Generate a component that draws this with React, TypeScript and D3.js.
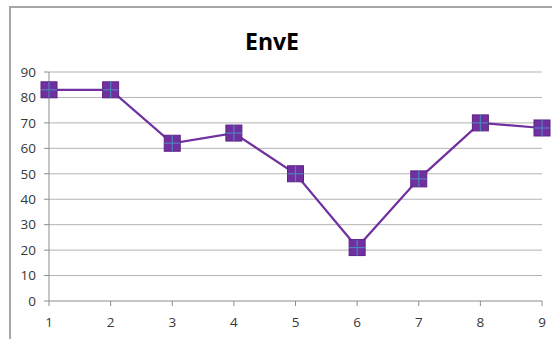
import React from "react";
import * as d3 from "d3";

const categories: number[] = [1, 2, 3, 4, 5, 6, 7, 8, 9];
const values: number[] = [83, 83, 62, 66, 50, 21, 48, 70, 68];
const yTicks: number[] = [0, 10, 20, 30, 40, 50, 60, 70, 80, 90];
const title = "EnvE";

const W = 552;
const H = 339;

export default function App() {
  const x = d3.scaleLinear().domain([1, 9]).range([49, 542]);
  const y = d3.scaleLinear().domain([0, 90]).range([301, 72]);
  const line = d3
    .line<number>()
    .x((_, i) => x(categories[i]))
    .y((d) => y(d));
  const ms = 16;

  return (
    <div style={{ position: "absolute", left: 0, top: 0 }}>
      <svg width={W} height={H} style={{ display: "block", background: "#fff" }}>
        {/* chart frame */}
        <rect x={10} y={7} width={W + 20} height={H + 20} fill="#fff" stroke="#a6a6a6" strokeWidth={2} />
        <text
          x={272}
          y={50}
          textAnchor="middle"
          fontFamily="'Open Sans', sans-serif"
          fontWeight="bold"
          fontSize={23}
          fill="#000"
        >
          {title}
        </text>
        {/* horizontal gridlines */}
        {yTicks.slice(1).map((t) => (
          <line key={t} x1={x(1)} x2={x(9)} y1={y(t)} y2={y(t)} stroke="#b3b3b3" strokeWidth={1} />
        ))}
        {/* axes */}
        <line x1={x(1)} x2={x(1)} y1={y(90)} y2={y(0)} stroke="#8c8c8c" strokeWidth={1} />
        <line x1={x(1)} x2={x(9)} y1={y(0)} y2={y(0)} stroke="#8c8c8c" strokeWidth={1} />
        {yTicks.map((t) => (
          <g key={t}>
            <line x1={x(1) - 5} x2={x(1)} y1={y(t)} y2={y(t)} stroke="#8c8c8c" />
            <text
              x={36}
              y={y(t)}
              dy="0.35em"
              textAnchor="end"
              fontFamily="'Open Sans', sans-serif"
              fontSize={13.5}
              fill="#383838"
            >
              {t}
            </text>
          </g>
        ))}
        {categories.map((c) => (
          <g key={c}>
            <line x1={x(c)} x2={x(c)} y1={y(0)} y2={y(0) + 5} stroke="#8c8c8c" />
            <text
              x={x(c)}
              y={327}
              textAnchor="middle"
              fontFamily="'Open Sans', sans-serif"
              fontSize={13.5}
              fill="#383838"
            >
              {c}
            </text>
          </g>
        ))}
        {/* series line */}
        <path d={line(values) || ""} fill="none" stroke="#7030a0" strokeWidth={2.2} />
        {/* markers */}
        {values.map((v, i) => {
          const cx = x(categories[i]);
          const cy = y(v);
          return (
            <g key={i}>
              <rect
                x={cx - ms / 2}
                y={cy - ms / 2}
                width={ms}
                height={ms}
                fill="#7030a0"
                stroke="#5b2385"
                strokeWidth={1}
              />
              <line x1={cx - ms / 2} x2={cx + ms / 2} y1={cy} y2={cy} stroke="#4f81bd" strokeWidth={1.2} />
              <line x1={cx} x2={cx} y1={cy - ms / 2} y2={cy + ms / 2} stroke="#4f81bd" strokeWidth={1.2} />
            </g>
          );
        })}
      </svg>
    </div>
  );
}
